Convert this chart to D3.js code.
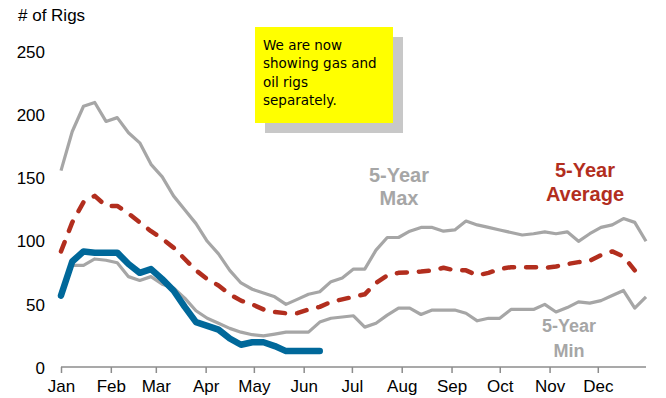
<!DOCTYPE html>
<html>
<head>
<meta charset="utf-8">
<script src="https://cdn.jsdelivr.net/npm/d3@7/dist/d3.min.js"></script>
<style>
  html, body { margin: 0; padding: 0; background: #fff; }
  svg { display: block; }
</style>
</head>
<body>
<svg id="chart" width="666" height="398"></svg>
<script>
// ---- data (weekly, starting Jan 1) ----
const year = 2023;
const monthLabels = ["Jan","Feb","Mar","Apr","May","Jun","Jul","Aug","Sep","Oct","Nov","Dec"];
const yTicks = [0, 50, 100, 150, 200, 250];

const maxSeries = [156,187,207,210,195,198,186,178,161,151,136,125,114,100,90,77,67,62,59,56,50,54,58,60,68,71,78,78,93,103,103,108,111,111,108,109,116,113,111,109,107,105,106,107.5,106,107.5,100,106,111,113,118,115,100];
const minSeries = [60,81,81,86,85,83,72,69,72,66,63,55,45,39,35,31,28,26,25,26.5,28,28,28,36,39,40,41,32,35,41.5,47,47,42,45.5,45.5,45.5,43,37,39,39,46,46,46,50,44,47.5,52,51,53,57,61,47,56];
const avgSeries = [92,115,131,136,128,128,122,115,108,102,95,86,77,70,65,58,53,50,46,44,43,43,46,48,52,54,56,58,67,73,75,75.5,76,77,79,77,77,73,75,78,79.5,79.5,79.5,79,80,82,83.5,84.5,89,92,88,77,null];
const currentSeries = [57,84,92,91,91,91,82,75,78,70,61,48,36,33,30,23,18,20,20,17,13,13,13,13];

const weekDates = d3.range(53).map(i => d3.timeDay.offset(new Date(year, 0, 1), 7 * i));

// ---- layout ----
const svg = d3.select("#chart");
const x = d3.scaleTime()
  .domain([new Date(year, 0, 1), new Date(year, 11, 31)])
  .range([61, 646]);
const y = d3.scaleLinear().domain([0, 250]).range([367.5, 52]);

const font = "'Liberation Sans', Arial, sans-serif";

// y labels
svg.append("g").selectAll("text").data(yTicks).join("text")
  .attr("x", 45).attr("y", d => y(d)).attr("dy", "0.36em")
  .attr("text-anchor", "end")
  .attr("font-family", font).attr("font-size", 17).attr("fill", "#000")
  .text(d => d);

svg.append("text").attr("x", 18).attr("y", 21)
  .attr("font-family", font).attr("font-size", 17).attr("fill", "#000")
  .text("# of Rigs");

// x axis
const xAxis = d3.axisBottom(x)
  .tickValues(d3.range(12).map(m => new Date(year, m, 1)))
  .tickFormat((d, i) => monthLabels[i])
  .tickSize(6).tickSizeOuter(0);
const gx = svg.append("g").attr("transform", "translate(0,367)").call(xAxis);
gx.select(".domain").attr("stroke", "#8c8c8c").attr("stroke-width", 1.5).attr("d", "M61,0H646");
gx.selectAll(".tick line").attr("stroke", "#8c8c8c").attr("stroke-width", 1.5);
gx.selectAll(".tick text").attr("font-family", font).attr("font-size", 17)
  .attr("fill", "#000").attr("y", 13).attr("dy", "0.71em");

// lines
const line = d3.line()
  .defined(d => d[1] != null)
  .x(d => x(d[0])).y(d => y(d[1]));
const pairs = arr => arr.map((v, i) => [weekDates[i], v]);

svg.append("path").datum(pairs(maxSeries)).attr("d", line)
  .attr("fill", "none").attr("stroke", "#a6a6a6").attr("stroke-width", 3.2)
  .attr("stroke-linejoin", "round");
svg.append("path").datum(pairs(minSeries)).attr("d", line)
  .attr("fill", "none").attr("stroke", "#a6a6a6").attr("stroke-width", 3.2)
  .attr("stroke-linejoin", "round");
svg.append("path").datum(pairs(avgSeries)).attr("d", line)
  .attr("fill", "none").attr("stroke", "#b22e1e").attr("stroke-width", 4.5)
  .attr("stroke-dasharray", "10,12").attr("stroke-linecap", "round")
  .attr("stroke-linejoin", "round");
svg.append("path").datum(pairs(currentSeries)).attr("d", line)
  .attr("fill", "none").attr("stroke", "#00689a").attr("stroke-width", 6.5)
  .attr("stroke-linejoin", "round").attr("stroke-linecap", "round");

// series labels
function label(lines, cx, y0, lh, color, size) {
  const t = svg.append("text").attr("text-anchor", "middle")
    .attr("font-family", font).attr("font-weight", "bold")
    .attr("font-size", size).attr("fill", color);
  lines.forEach((s, i) => t.append("tspan").attr("x", cx).attr("y", y0 + i * lh).text(s));
}
label(["5-Year", "Max"], 399, 182, 23, "#a6a6a6", 20);
label(["5-Year", "Average"], 585, 177, 24, "#b22e1e", 20);
label(["5-Year", "Min"], 569, 332, 25, "#a6a6a6", 18);

// note box
svg.append("rect").attr("x", 265).attr("y", 37).attr("width", 138).attr("height", 96).attr("fill", "#c8c8c8");
svg.append("rect").attr("x", 255).attr("y", 27).attr("width", 138).attr("height", 96).attr("fill", "#ffff00");
const note = ["We are now", "showing gas and", "oil rigs", "separately."];
const nt = svg.append("text").attr("font-family", "'Comic Sans MS', 'DejaVu Sans', sans-serif")
  .attr("font-size", 13.5).attr("fill", "#000");
note.forEach((s, i) => nt.append("tspan").attr("x", 263).attr("y", 50 + i * 18.3).text(s));
</script>
</body>
</html>
